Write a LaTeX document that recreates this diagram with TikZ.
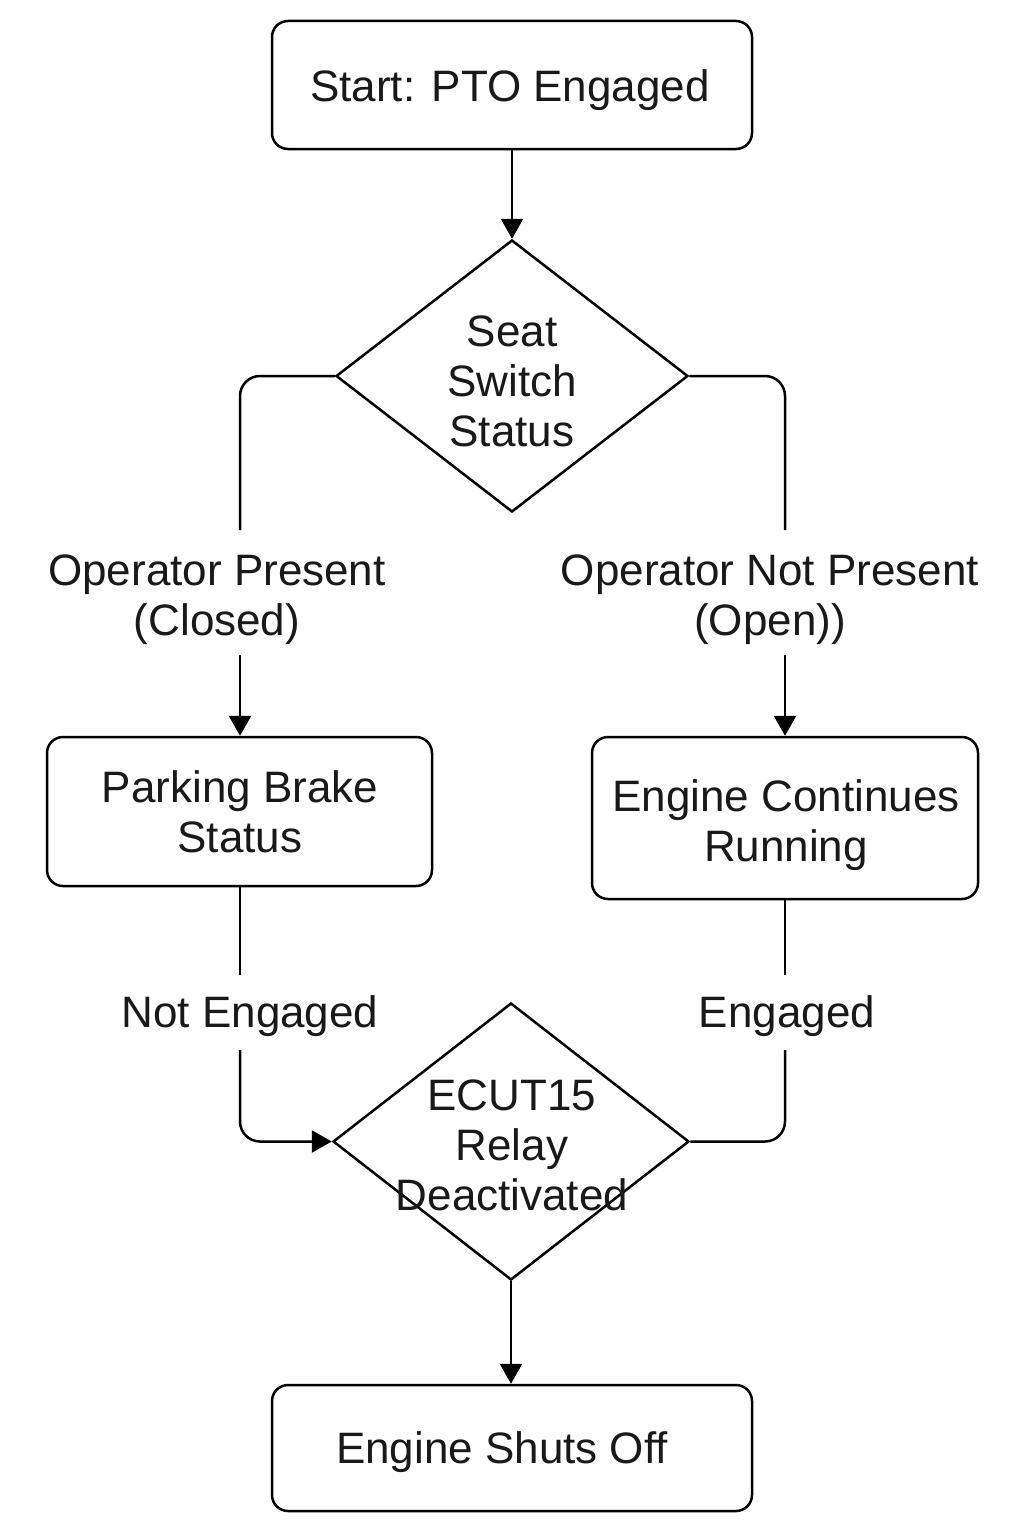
\documentclass[tikz,border=0pt]{standalone}
\usepackage{fontspec}
\setmainfont{Liberation Sans}
\usetikzlibrary{shapes.geometric,arrows.meta}
\begin{document}
\begin{tikzpicture}[x=0.5pt,y=-0.5pt,
 lbl/.style={align=center, inner sep=0pt, text=black!90, font=\fontsize{22}{25}\selectfont},
 box/.style={draw=black, rounded corners=8pt, line width=1.25pt, inner sep=0pt},
 dia/.style={draw=black, diamond, line width=1.25pt, inner sep=0pt},
 conn/.style={line width=1.25pt, rounded corners=10pt},
 arr/.style={conn, -{Triangle[length=10pt,width=11pt]}}]
\useasboundingbox (0,0) rectangle (1024,1536);
\fill[white] (0,0) rectangle (1024,1536);

% nodes
\node[box, minimum width=240pt, minimum height=64pt] (start) at (512,85) {};
\node[lbl] (startt) at (510,90) {Start: PTO Engaged};
\node[dia, minimum width=176pt, minimum height=136pt] (d1) at (512,376) {};
\node[lbl] (d1t) at (512,381) {Seat\\Switch\\Status};

\node[lbl] (opl) at (217,600) {Operator Present\\(Closed)};
\node[lbl] (opr) at (770,600) {Operator Not Present\\(Open))};

\node[box, minimum width=192.5pt, minimum height=74.5pt] (pb) at (239.5,811.5) {};
\node[lbl] (pbt) at (240,812) {Parking Brake\\Status};
\node[box, minimum width=193pt, minimum height=81pt] (ec) at (785,818) {};
\node[lbl] (ect) at (786,825) {Engine Continues\\Running};

\node[lbl] (ne) at (250,1016) {Not Engaged};
\node[lbl] (en) at (787,1016) {Engaged};

\node[dia, minimum width=178pt, minimum height=138.5pt] (d2) at (511,1141.5) {};
\node[lbl] (d2t) at (512,1145) {ECUT15\\Relay\\Deactivated};

\node[box, minimum width=240pt, minimum height=63pt] (stop) at (512,1448) {};
\node[lbl] (stopt) at (502,1452) {Engine Shuts Off};

% coordinates for connector free ends
\coordinate (c1) at (240,530);
\coordinate (c2) at (240,655);
\coordinate (c3) at (785,530);
\coordinate (c4) at (785,655);
\coordinate (c5) at (240,975);
\coordinate (c6) at (240,1050);
\coordinate (c7) at (785,975);
\coordinate (c8) at (785,1050);

% connectors
\draw[arr] (start.south) -- (d1.north);
\draw[conn] (d1.west) -| (c1);
\draw[arr] (c2) -- (c2 |- pb.north);
\draw[conn] (d1.east) -| (c3);
\draw[arr] (c4) -- (c4 |- ec.north);
\draw[conn] (c5 |- pb.south) -- (c5);
\draw[arr] (c6) |- (d2.west);
\draw[conn] (c7 |- ec.south) -- (c7);
\draw[conn] (c8) |- (d2.east);
\draw[arr] (d2.south) -- (d2.south |- stop.north);
\end{tikzpicture}
\end{document}
